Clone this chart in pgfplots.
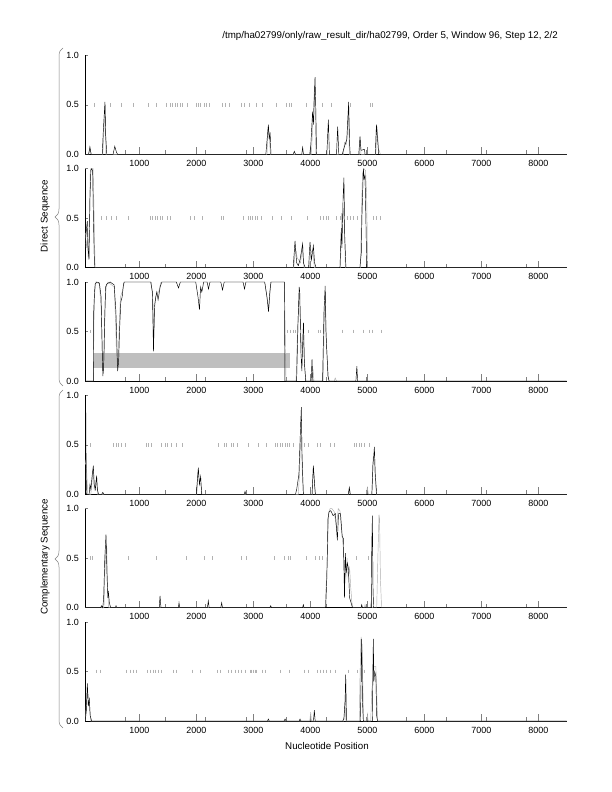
\documentclass[border=0pt]{standalone}
\usepackage{fontspec}
\setmainfont{Liberation Sans}
\usepackage{pgfplots}
\pgfplotsset{compat=1.18}
\usetikzlibrary{decorations.pathreplacing}

\pgfplotsset{
  gm/.style={
    scale only axis, width=481.4bp, height=99bp,
    anchor=south west, clip=false,
    xmin=53, xmax=8498, ymin=0, ymax=1,
    axis x line*=bottom, axis y line*=left,
    axis line style={black, line width=0.5bp},
    tick align=inside,
    xtick={1000,2000,3000,4000,5000,6000,7000,8000},
    minor xtick={757,1461,2165,2868,3572,4276,4980,5684,6388,7091,7795},
    ytick={0,0.5,1},
    xtick style={gray, line width=0.5bp, /pgfplots/major tick length=7bp},
    minor tick length=4bp,
    ytick style={gray, line width=0.5bp, /pgfplots/major tick length=3bp},
    tick label style={font=\fontsize{9}{10}\selectfont},
    xticklabel style={/pgf/number format/1000 sep={}, yshift=-2.5bp},
    yticklabel style={/pgf/number format/.cd, fixed, fixed zerofill, precision=1, /tikz/.cd, xshift=-3bp},
    /pgf/number format/assume math mode=true,
  },
  blk/.style={black, line width=0.45bp},
  gry/.style={gray!65, line width=0.45bp},
  stc/.style={only marks, mark=|, mark size=1.8bp, gray!60, mark options={line width=0.45bp}},
}

\begin{document}
\begin{tikzpicture}
\path[use as bounding box] (0,0) rectangle (612bp,792bp);

% panel 1
\begin{axis}[gm, at={(85.3bp,637.7bp)}]
\addplot[stc] coordinates {(215,0.5)(495,0.5)(691,0.5)(895,0.5)(1160,0.5)(1290,0.5)(1469,0.5)(1539,0.5)(1586,0.5)(1627,0.5)(1673,0.5)(1714,0.5)(1761,0.5)(1843,0.5)(1995,0.5)(2036,0.5)(2077,0.5)(2135,0.5)(2182,0.5)(2229,0.5)(2463,0.5)(2504,0.5)(2574,0.5)(2796,0.5)(2837,0.5)(2931,0.5)(3059,0.5)(3165,0.5)(3410,0.5)(3586,0.5)(3632,0.5)(3662,0.5)(3925,0.5)(4217,0.5)(4363,0.5)(4709,0.5)(5059,0.5)(5094,0.5)};
\addplot[gry] coordinates {(53,0)(115,0)(130,0.08)(150,0.02)(160,0)(360,0)(385,0.3)(400,0.5)(415,0)(3240,0)(3260,0.28)(3290,0.1)(3300,0)(4020,0)(4050,0.4)(4075,0.7)(4090,0.2)(4100,0)(4580,0)(4600,0.12)(4630,0.1)(4650,0.2)(4670,0.45)(4685,0)(4860,0)(4875,0.15)(4890,0)(5150,0)(5170,0.28)(5200,0.05)(5230,0)(8498,0)};
\addplot[blk] coordinates {(53,0)(110,0)(135,0.07)(155,0)(350,0)(370,0.25)(390,0.45)(398,0.53)(410,0.2)(430,0)(540,0)(570,0.08)(600,0.02)(620,0)(3220,0)(3250,0.2)(3265,0.3)(3280,0.15)(3295,0.22)(3310,0)(3700,0)(3720,0.03)(3740,0)(3850,0)(3866,0.07)(3880,0)(3990,0)(4010,0.1)(4040,0.43)(4055,0.3)(4083,0.78)(4095,0.5)(4110,0)(4290,0)(4317,0.35)(4335,0)(4460,0)(4480,0.28)(4500,0)(4560,0)(4600,0.08)(4640,0.15)(4673,0.53)(4690,0.1)(4700,0)(4850,0)(4872,0.18)(4890,0.04)(4950,0.05)(4960,0)(5140,0)(5160,0.3)(5180,0.15)(5200,0)(8498,0)};
\end{axis}

% panel 2
\begin{axis}[gm, at={(85.3bp,524.35bp)}]
\addplot[stc] coordinates {(340,0.5)(428,0.5)(516,0.5)(592,0.5)(808,0.5)(1200,0.5)(1235,0.5)(1276,0.5)(1317,0.5)(1364,0.5)(1410,0.5)(1492,0.5)(1539,0.5)(1890,0.5)(1960,0.5)(2112,0.5)(2445,0.5)(2475,0.5)(2826,0.5)(2913,0.5)(2954,0.5)(2989,0.5)(3030,0.5)(3071,0.5)(3147,0.5)(3334,0.5)(3498,0.5)(3662,0.5)(3954,0.5)(4182,0.5)(4229,0.5)(4276,0.5)(4317,0.5)(4463,0.5)(4521,0.5)(4650,0.5)(4709,0.5)(4755,0.5)(4825,0.5)(5106,0.5)(5165,0.5)(5223,0.5)};
\addplot[gry] coordinates {(53,0.35)(70,0.2)(90,0.3)(105,0.1)(125,0.5)(140,0.97)(150,1.0)(190,1.0)(205,0.6)(225,0)(3710,0)(3740,0.2)(3770,0.1)(3830,0.05)(3860,0.2)(3890,0)(3980,0)(4010,0.15)(4045,0.18)(4070,0)(4530,0)(4550,0.55)(4565,0.45)(4580,0.6)(4600,0.4)(4615,0)(4880,0)(4900,0.6)(4915,0.95)(4940,1.0)(4970,0.98)(4990,0.7)(5005,0)(8498,0)};
\addplot[blk] coordinates {(53,0.25)(75,0.4)(89,0.47)(100,0.2)(118,0.08)(135,0.7)(150,0.98)(165,1.0)(182,0.98)(195,0.5)(215,0)(3700,0)(3732,0.27)(3760,0.05)(3790,0.02)(3820,0.08)(3866,0.24)(3880,0.05)(3910,0)(3970,0)(3995,0.26)(4020,0.08)(4054,0.22)(4075,0.05)(4100,0)(4520,0)(4545,0.4)(4555,0.2)(4575,0.7)(4590,0.91)(4605,0.3)(4625,0)(4870,0)(4895,0.15)(4905,0.5)(4931,1.0)(4945,0.9)(4960,0.93)(4975,0.5)(4990,0)(8498,0)};
\end{axis}

% panel 3
\begin{axis}[gm, at={(85.3bp,411bp)}]
\addplot[fill=black!25, draw=none] coordinates {(196,0.13)(3647,0.13)(3647,0.28)(196,0.28)} -- cycle;
\addplot[stc] coordinates {(138,0.5)(3600,0.5)(3645,0.5)(3705,0.5)(3730,0.5)(3832,0.5)(3966,0.5)(4142,0.5)(4172,0.5)(4568,0.5)(4745,0.5)(4927,0.5)(5035,0.5)(5094,0.5)(5252,0.5)};
\addplot[gry] coordinates {(53,0)(195,0)(205,0.6)(220,0.9)(240,1.0)(300,0.98)(335,0.7)(355,0.2)(370,0.08)(385,0.25)(400,0.8)(420,0.95)(450,1.0)(560,0.95)(585,0.6)(600,0.25)(615,0.15)(630,0.22)(650,0.6)(670,0.85)(700,0.9)(740,1.0)(1210,1.0)(1240,0.8)(1255,0.45)(1275,0.8)(1300,0.88)(1340,0.9)(1380,1.0)(3200,1.0)(3250,0.8)(3275,0.75)(3310,1.0)(3545,1.0)(3560,0.5)(3575,0)(3750,0)(3775,0.5)(3800,0.8)(3820,0.75)(3840,0.4)(3860,0.3)(3885,0.4)(3905,0.1)(3925,0)(4030,0)(4050,0.1)(4065,0)(4225,0)(4245,0.6)(4265,0.9)(4280,0.4)(4300,0.2)(4320,0)(4420,0)(4437,0.03)(4460,0)(8498,0)};
\addplot[blk] coordinates {(53,0)(195,0)(200,0.7)(215,0.9)(226,0.98)(255,1.0)(300,0.99)(330,0.85)(350,0.3)(361,0.05)(375,0.15)(392,0.6)(410,0.95)(431,0.98)(489,1.0)(560,0.97)(590,0.7)(606,0.4)(620,0.1)(638,0.2)(653,0.5)(676,0.8)(700,0.85)(723,0.98)(735,1.0)(1200,1.0)(1230,0.9)(1249,0.3)(1267,0.75)(1290,0.85)(1308,0.9)(1330,0.82)(1366,0.95)(1396,1.0)(1650,1.0)(1688,0.94)(1720,1.0)(1990,1.0)(2030,0.85)(2056,0.72)(2075,0.95)(2097,0.9)(2130,1.0)(2190,1.0)(2214,0.93)(2240,1.0)(2430,1.0)(2460,0.92)(2490,1.0)(2820,1.0)(2846,0.93)(2870,1.0)(3200,1.0)(3240,0.85)(3267,0.7)(3290,0.9)(3310,1.0)(3545,1.0)(3555,0)(3760,0)(3785,0.6)(3805,0.95)(3815,0.9)(3835,0.3)(3852,0.1)(3870,0.45)(3881,0.59)(3895,0.2)(3920,0)(4015,0)(4030,0.22)(4045,0)(4215,0)(4240,0.7)(4261,0.96)(4275,0.5)(4290,0.3)(4310,0.05)(4330,0)(4800,0)(4817,0.15)(4830,0)(8498,0)};
\end{axis}

% panel 4
\begin{axis}[gm, at={(85.3bp,297.65bp)}]
\addplot[stc] coordinates {(135,0.5)(545,0.5)(592,0.5)(633,0.5)(691,0.5)(749,0.5)(1118,0.5)(1159,0.5)(1217,0.5)(1393,0.5)(1451,0.5)(1492,0.5)(1568,0.5)(1656,0.5)(1761,0.5)(2387,0.5)(2486,0.5)(2533,0.5)(2621,0.5)(2650,0.5)(2720,0.5)(2913,0.5)(3089,0.5)(3223,0.5)(3381,0.5)(3428,0.5)(3469,0.5)(3516,0.5)(3557,0.5)(3597,0.5)(3632,0.5)(3703,0.5)(3890,0.5)(3966,0.5)(4124,0.5)(4182,0.5)(4346,0.5)(4416,0.5)(4767,0.5)(4814,0.5)(4860,0.5)(4902,0.5)(4942,0.5)(5036,0.5)};
\addplot[gry] coordinates {(53,0.3)(65,0.35)(80,0.2)(95,0)(150,0)(175,0.15)(190,0.25)(210,0.05)(235,0.12)(250,0.15)(270,0)(2010,0)(2030,0.22)(2060,0.12)(2080,0.1)(2100,0)(3790,0)(3810,0.2)(3830,0.55)(3845,0.6)(3860,0.2)(3880,0)(4035,0)(4050,0.25)(4065,0.2)(4085,0)(4670,0)(4690,0.05)(4705,0)(4980,0)(5001,0.07)(5020,0)(5080,0)(5095,0.3)(5105,0.38)(5125,0.35)(5145,0.1)(5160,0)(8498,0)};
\addplot[blk] coordinates {(53,1.0)(60,0.95)(68,0.2)(75,0)(120,0)(135,0.1)(150,0.05)(175,0.2)(194,0.29)(210,0.1)(230,0.05)(252,0.19)(265,0.05)(285,0)(340,0)(360,0.02)(380,0)(2000,0)(2036,0.27)(2055,0.1)(2077,0.18)(2095,0)(2840,0)(2855,0.03)(2870,0)(3740,0)(3761,0.05)(3800,0.2)(3830,0.7)(3843,0.88)(3855,0.4)(3878,0)(4030,0)(4054,0.29)(4075,0.1)(4090,0)(4665,0)(4685,0.07)(4700,0)(5080,0)(5100,0.3)(5115,0.4)(5124,0.48)(5140,0.2)(5165,0)(8498,0)};
\end{axis}

% panel 5
\begin{axis}[gm, at={(85.3bp,184.3bp)}]
\addplot[stc] coordinates {(135,0.5)(182,0.5)(808,0.5)(1293,0.5)(1831,0.5)(2135,0.5)(2288,0.5)(2796,0.5)(2872,0.5)(3369,0.5)(3539,0.5)(3615,0.5)(3656,0.5)(3937,0.5)(4083,0.5)(4159,0.5)(4217,0.5)(4802,0.5)(5019,0.5)};
\addplot[gry] coordinates {(53,0)(380,0)(400,0.4)(420,0.65)(430,0.6)(445,0.15)(465,0)(4260,0)(4300,0.5)(4320,0.95)(4346,1.0)(4380,1.0)(4420,0.97)(4460,0.8)(4490,1.0)(4520,0.98)(4545,0.8)(4580,0.6)(4600,0.4)(4625,0.3)(4645,0.5)(4665,0.3)(4690,0.4)(4710,0.2)(4730,0.05)(4750,0)(4950,0)(4960,0.03)(4975,0)(5050,0)(5065,0.05)(5080,0)(5165,0)(5185,0.5)(5205,0.94)(5215,0.9)(5230,0.3)(5250,0)(8498,0)};
\addplot[blk] coordinates {(53,0)(320,0)(340,0.02)(360,0)(375,0.1)(395,0.5)(416,0.74)(435,0.3)(450,0.1)(457,0.17)(475,0.05)(498,0)(580,0)(592,0.02)(605,0)(1350,0)(1364,0.12)(1380,0)(1685,0)(1697,0.05)(1710,0)(2195,0)(2211,0.07)(2225,0)(2430,0)(2445,0.05)(2460,0)(3290,0)(3305,0.02)(3320,0)(3865,0)(3878,0.03)(3890,0)(4270,0)(4290,0.3)(4310,0.9)(4330,0.97)(4360,0.98)(4400,0.93)(4440,0.95)(4475,0.68)(4495,0.95)(4530,0.95)(4560,0.72)(4580,0.7)(4600,0.1)(4615,0.55)(4630,0.35)(4650,0.45)(4668,0.4)(4690,0.1)(4715,0.05)(4740,0)(4890,0)(4902,0.03)(4915,0)(5070,0)(5078,0.6)(5089,0.93)(5100,0.2)(5110,0)(8498,0)};
\end{axis}

% panel 6
\begin{axis}[gm, at={(85.3bp,70.95bp)}]
\addplot[stc] coordinates {(252,0.5)(311,0.5)(779,0.5)(837,0.5)(896,0.5)(954,0.5)(1147,0.5)(1200,0.5)(1247,0.5)(1287,0.5)(1334,0.5)(1393,0.5)(1597,0.5)(1644,0.5)(1931,0.5)(2065,0.5)(2375,0.5)(2416,0.5)(2562,0.5)(2621,0.5)(2679,0.5)(2738,0.5)(2796,0.5)(2855,0.5)(2942,0.5)(2972,0.5)(3001,0.5)(3030,0.5)(3059,0.5)(3165,0.5)(3206,0.5)(3469,0.5)(3632,0.5)(3890,0.5)(3966,0.5)(4124,0.5)(4182,0.5)(4229,0.5)(4276,0.5)(4346,0.5)(4434,0.5)(4668,0.5)(4831,0.5)(4942,0.5)};
\addplot[gry] coordinates {(53,0)(75,0.2)(95,0.3)(115,0.2)(130,0.1)(150,0)(3990,0)(4007,0.09)(4020,0)(4590,0)(4609,0.2)(4625,0)(4860,0)(4872,0.45)(4890,0.85)(4910,0.7)(4935,0)(4990,0)(5001,0.07)(5015,0)(5060,0)(5077,0.3)(5095,0.4)(5117,0.55)(5135,0.55)(5150,0.55)(5165,0.3)(5180,0)(8498,0)};
\addplot[blk] coordinates {(53,0)(70,0.1)(89,0.38)(105,0.15)(124,0.22)(140,0.05)(165,0)(3250,0)(3264,0.02)(3280,0)(3540,0)(3557,0.02)(3575,0)(3805,0)(3820,0.02)(3835,0)(4055,0)(4071,0.11)(4085,0)(4570,0)(4590,0.03)(4610,0.2)(4621,0.47)(4635,0)(4880,0)(4895,0.6)(4902,0.83)(4915,0.2)(4930,0)(5090,0)(5100,0.6)(5106,0.83)(5115,0.4)(5130,0.5)(5150,0.45)(5165,0.05)(5180,0)(8498,0)};
\end{axis}

\draw[gray, line width=0.5bp, decorate, decoration={brace, amplitude=8bp}] (63bp,406bp) -- (63bp,744bp);
\draw[gray, line width=0.5bp, decorate, decoration={brace, amplitude=8bp}] (63bp,64bp) -- (63bp,402bp);
\node[rotate=90, font=\fontsize{9.8}{11}\selectfont] at (45bp,576bp) {Direct Sequence};
\node[rotate=90, font=\fontsize{9.8}{11}\selectfont] at (45bp,235bp) {Complementary Sequence};
\node[font=\fontsize{9.8}{11}\selectfont] at (327bp,46bp) {Nucleotide Position};
\node[anchor=base east, inner sep=0pt, font=\fontsize{9.8}{11}\selectfont] at (558bp,753.5bp) {/tmp/ha02799/only/raw\_result\_dir/ha02799, Order 5, Window 96, Step 12, 2/2};
\end{tikzpicture}
\end{document}
